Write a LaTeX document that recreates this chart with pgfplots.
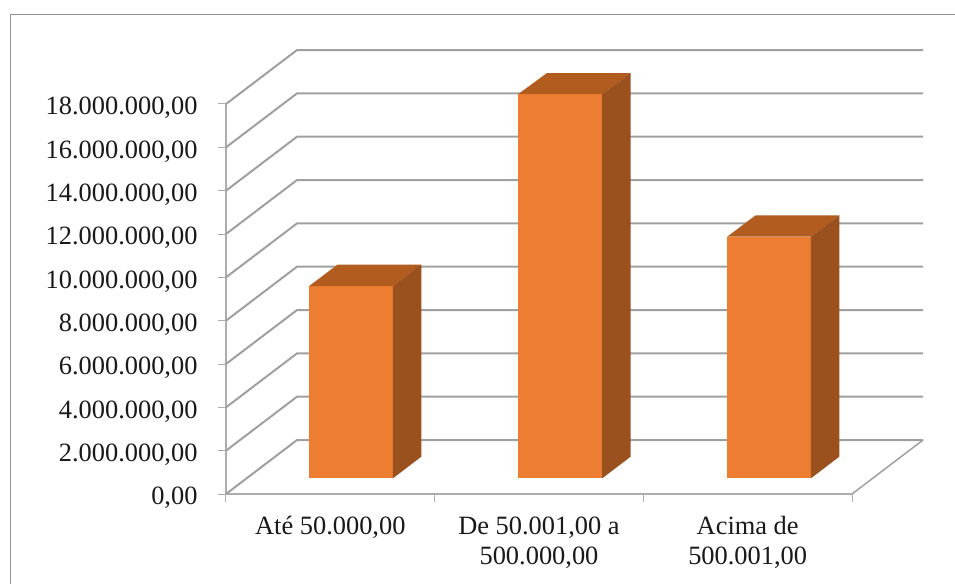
\documentclass[border=0pt]{standalone}
\usepackage{pgfplots}
\pgfplotsset{compat=1.18}
\usepackage{fontspec}
\setmainfont{Liberation Serif}
\definecolor{barfront}{HTML}{ED7D31}
\definecolor{barside}{HTML}{9A511D}
\definecolor{bartop}{HTML}{B25C1F}
\definecolor{gridgray}{HTML}{A0A0A0}
\definecolor{axisgray}{HTML}{ADADAD}

% one wall line: front-plane start, then the depth step, then along the back wall
\newcommand{\wallline}[2]{%
  \addplot[gridgray, line width=2pt, line join=round] coordinates {(0,#1) (0.3405,#2) (3.3405,#2)};
}
% one bar in oblique projection: left, right, right+depth, left+depth, front top, back top
\newcommand{\obliquebar}[6]{%
  \addplot[fill=barfront, draw=none] coordinates {(#1,724600) (#2,724600) (#2,#5) (#1,#5)} -- cycle;
  \addplot[fill=bartop, draw=none] coordinates {(#1,#5) (#2,#5) (#3,#6) (#4,#6)} -- cycle;
  \addplot[fill=barside, draw=none] coordinates {(#2,724600) (#3,1721500) (#3,#6) (#2,#5)} -- cycle;
}

\begin{document}
\begin{tikzpicture}[x=1pt,y=1pt]
  \path[use as bounding box, fill=white] (-226,-90) rectangle (729,494);
  \draw[color=gray!85, line width=1.2pt] (-215.5,-90) -- (-215.5,479.3) -- (729,479.3);
  \begin{axis}[
    at={(0,0)}, anchor=origin,
    scale only axis, width=626pt, height=390pt,
    xmin=0, xmax=3, ymin=0, ymax=18000000,
    clip=false,
    scaled y ticks=false,
    axis lines=left,
    axis line style={-, axisgray, line width=1.8pt},
    tick style={axisgray, line width=1pt},
    tick align=outside,
    major tick length=8pt,
    xtick={0,1,2,3},
    x tick label as interval,
    xticklabels={{\strut Até 50.000,00},{\strut De 50.001,00 a\\500.000,00},{\strut Acima de\\500.001,00}},
    xticklabel style={font=\fontsize{26.4}{30}\selectfont, align=center, yshift=-8pt, text=black!90},
    ytick={0,2000000,4000000,6000000,8000000,10000000,12000000,14000000,16000000,18000000},
    yticklabels={{0,00},{2.000.000,00},{4.000.000,00},{6.000.000,00},{8.000.000,00},{10.000.000,00},{12.000.000,00},{14.000.000,00},{16.000.000,00},{18.000.000,00}},
    yticklabel style={font=\fontsize{26.4}{30}\selectfont, text=black!90, xshift=-17pt, yshift=-4pt},
  ]
    \wallline{0}{2492000}
    \wallline{2000000}{4492000}
    \wallline{4000000}{6492000}
    \wallline{6000000}{8492000}
    \wallline{8000000}{10492000}
    \wallline{10000000}{12492000}
    \wallline{12000000}{14492000}
    \wallline{14000000}{16492000}
    \wallline{16000000}{18492000}
    \wallline{18000000}{20492000}
    % right-hand edge of the floor
    \addplot[gridgray, line width=1.5pt] coordinates {(3,0) (3.3405,2492000)};

    \obliquebar{0.399}{0.800}{0.936}{0.535}{9600000}{10590000}
    \obliquebar{1.401}{1.803}{1.939}{1.537}{18461500}{19420000}
    \obliquebar{2.402}{2.803}{2.939}{2.538}{11875000}{12862000}
    % faint seam across the tall bar's front face
    \addplot[barfront!96!black, line width=0.6pt, dash pattern=on 1pt off 5pt] coordinates {(1.455,14400000) (1.790,17250000)};
  \end{axis}
\end{tikzpicture}
\end{document}
